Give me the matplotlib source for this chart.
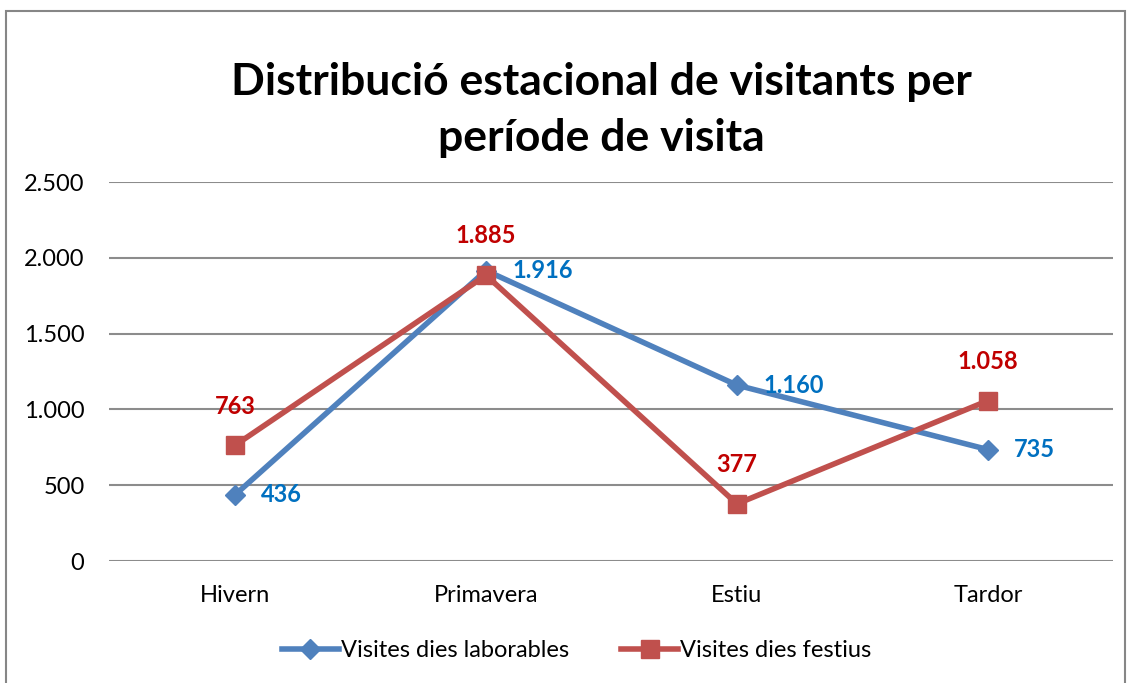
import matplotlib.pyplot as plt
from matplotlib.patches import Rectangle
from matplotlib.ticker import FuncFormatter

seasons = ['Hivern', 'Primavera', 'Estiu', 'Tardor']
laborables = [436, 1916, 1160, 735]
festius = [763, 1885, 377, 1058]

plt.rcParams['font.family'] = ['Lato', 'DejaVu Sans']

blue = '#4F81BD'
red = '#C0504D'
blue_txt = '#0070C0'
red_txt = '#C00000'


def thousands(v, pos=None):
    return f'{int(v):,}'.replace(',', '.')


fig = plt.figure(figsize=(11.31, 6.83), dpi=100)
ax = fig.add_axes([0.0968, 0.1786, 0.8877, 0.5549])

x = range(len(seasons))
ax.plot(x, laborables, color=blue, lw=4, marker='D', ms=10,
        label='Visites dies laborables', zorder=3)
ax.plot(x, festius, color=red, lw=4, marker='s', ms=13,
        label='Visites dies festius', zorder=3)

for i, v in enumerate(laborables):
    ax.annotate(thousands(v), (i, v), xytext=(19, 0), textcoords='offset points',
                ha='left', va='center', color=blue_txt, fontsize=17, fontweight='bold')
for i, v in enumerate(festius):
    ax.annotate(thousands(v), (i, v), xytext=(0, 20), textcoords='offset points',
                ha='center', va='bottom', color=red_txt, fontsize=17, fontweight='bold')

ax.set_xlim(-0.5, 3.5)
ax.set_ylim(0, 2500)
ax.set_yticks(range(0, 2501, 500))
ax.yaxis.set_major_formatter(FuncFormatter(thousands))
ax.set_xticks(list(x))
ax.set_xticklabels(seasons)
ax.grid(axis='y', color='#8C8C8C', lw=1.5)
ax.set_axisbelow(True)
for s in ax.spines.values():
    s.set_visible(False)
ax.tick_params(length=0, labelsize=17, pad=17)
ax.tick_params(axis='y', pad=18)

fig.text(0.532, 0.839, 'Distribució estacional de visitants per\nperíode de visita',
         ha='center', va='center', fontsize=32, fontweight='bold', linespacing=1.48)

fig.legend(loc='center', bbox_to_anchor=(0.51, 0.047), ncol=2, frameon=False,
           fontsize=17, handlelength=2.4, columnspacing=2.2, handletextpad=0.1)

fig.patches.append(Rectangle((6 / 1131, -0.01), 1119 / 1131, 1 - 11 / 683 + 0.01,
                             transform=fig.transFigure, fill=False,
                             edgecolor='#868686', lw=1.5))

fig.savefig('out.png', dpi=100)
